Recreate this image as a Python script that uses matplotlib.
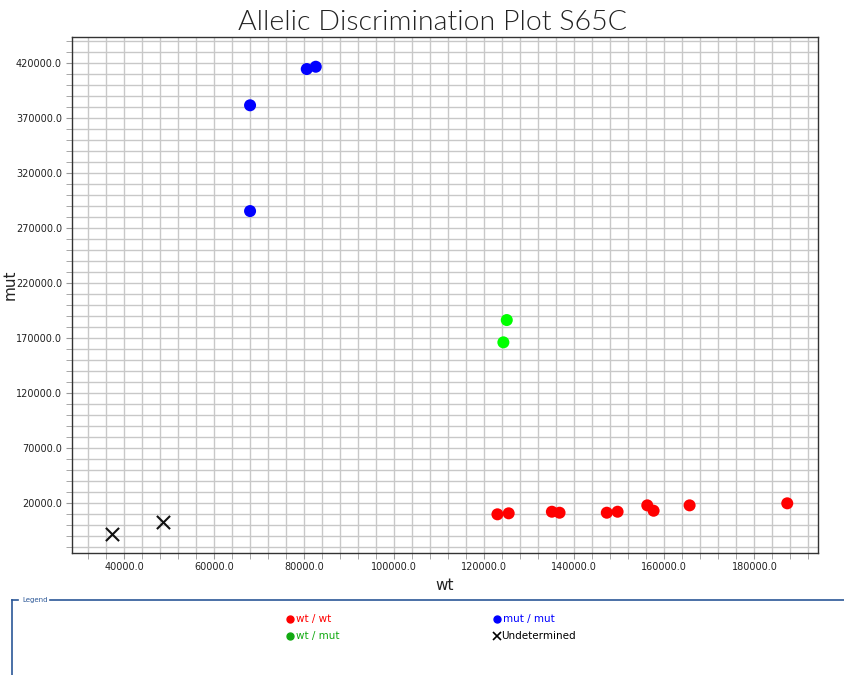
import matplotlib
matplotlib.use("Agg")
import matplotlib.pyplot as plt
from matplotlib.lines import Line2D
import numpy as np

# ---- data ----
wtwt_x = [122900, 125400, 135000, 136700, 147200, 149600, 156200, 157600, 165600, 187300]
wtwt_y = [9440, 10350, 11800, 10900, 10900, 11800, 17600, 12700, 17600, 19450]
mutmut_x = [80533, 82533, 67933, 67933]
mutmut_y = [414800, 416900, 381800, 285500]
wtmut_x = [124978, 124222]
wtmut_y = [186300, 166000]
undet_x = [37300, 48500]
undet_y = [-8500, 2700]

x_major = [40000, 60000, 80000, 100000, 120000, 140000, 160000, 180000]
y_major = [20000, 70000, 120000, 170000, 220000, 270000, 320000, 370000, 420000]
legend_labels = ["wt / wt", "mut / mut", "wt / mut", "Undetermined"]

title = "Allelic Discrimination Plot S65C"

# ---- figure ----
fig = plt.figure(figsize=(8.44, 6.75), dpi=100)
ax = fig.add_axes([71.7 / 844, 1 - 552.7 / 675, (818.3 - 71.7) / 844, (552.7 - 37.3) / 675])

ax.set_xlim(28300, 194200)
ax.set_ylim(-25500, 443700)

ax.scatter(wtwt_x, wtwt_y, s=75, color="#ff0000", edgecolors="none", zorder=3)
ax.scatter(mutmut_x, mutmut_y, s=75, color="#0000ff", edgecolors="none", zorder=3)
ax.scatter(wtmut_x, wtmut_y, s=75, color="#00ff00", edgecolors="none", zorder=3)
ax.scatter(undet_x, undet_y, s=90, marker="x", color="#111111", linewidths=1.5, zorder=3)

ax.set_xticks(x_major)
ax.set_xticklabels([f"{v:.1f}" for v in x_major])
ax.set_yticks(y_major)
ax.set_yticklabels([f"{v:.1f}" for v in y_major])
ax.set_xticks(np.arange(32000, 194200, 4000), minor=True)
ax.set_yticks(np.arange(-20000, 443700, 10000), minor=True)

ax.grid(True, which="both", color="#c8c8c8", linewidth=1.0)
ax.set_axisbelow(True)
ax.tick_params(which="both", direction="out", length=4, color="#999999",
               labelsize=7, labelcolor="#222222", pad=3)
for sp in ax.spines.values():
    sp.set_color("#333333")
    sp.set_linewidth(1.0)

ax.set_xlabel("wt", fontsize=11, color="#222222", labelpad=4)
ax.set_ylabel("mut", fontsize=11, color="#222222")
ax.yaxis.set_label_coords(-0.073, 0.52)

fig.text(433 / 844, 1 - 22 / 675, title, fontsize=20.5, family="Lato", fontweight=300,
         ha="center", va="center", color="#222222")

# ---- legend panel ----
lc = "#2b5797"
fig.add_artist(Line2D([12 / 844, 12 / 844], [0, 1 - 600 / 675], transform=fig.transFigure, color=lc, lw=1.2))
fig.add_artist(Line2D([12 / 844, 18 / 844], [1 - 600 / 675] * 2, transform=fig.transFigure, color=lc, lw=1.2))
fig.add_artist(Line2D([50 / 844, 1.0], [1 - 600 / 675] * 2, transform=fig.transFigure, color=lc, lw=1.2))
fig.text(22 / 844, 1 - 600 / 675, "Legend", fontsize=5, color=lc, va="center", ha="left")

leg_pos = [(290, 619), (497, 619), (290, 636), (497, 636)]
leg_colors = ["#ff0000", "#0000ff", "#11aa11", "#000000"]
leg_markers = ["o", "o", "o", "x"]
for (px, py), lab, c, m in zip(leg_pos, legend_labels, leg_colors, leg_markers):
    fy = 1 - py / 675
    if m == "o":
        fig.add_artist(Line2D([px / 844], [fy], transform=fig.transFigure, marker="o",
                              markersize=5, color=c, linestyle="none"))
        fig.text((px + 6) / 844, fy, lab, fontsize=7.5, color=c, va="center", ha="left")
    else:
        fig.add_artist(Line2D([px / 844], [fy], transform=fig.transFigure, marker="x",
                              markersize=6, markeredgewidth=1.2, color=c, linestyle="none"))
        fig.text((px + 4) / 844, fy, lab, fontsize=7.5, color=c, va="center", ha="left")

fig.savefig("out.png", dpi=100)
